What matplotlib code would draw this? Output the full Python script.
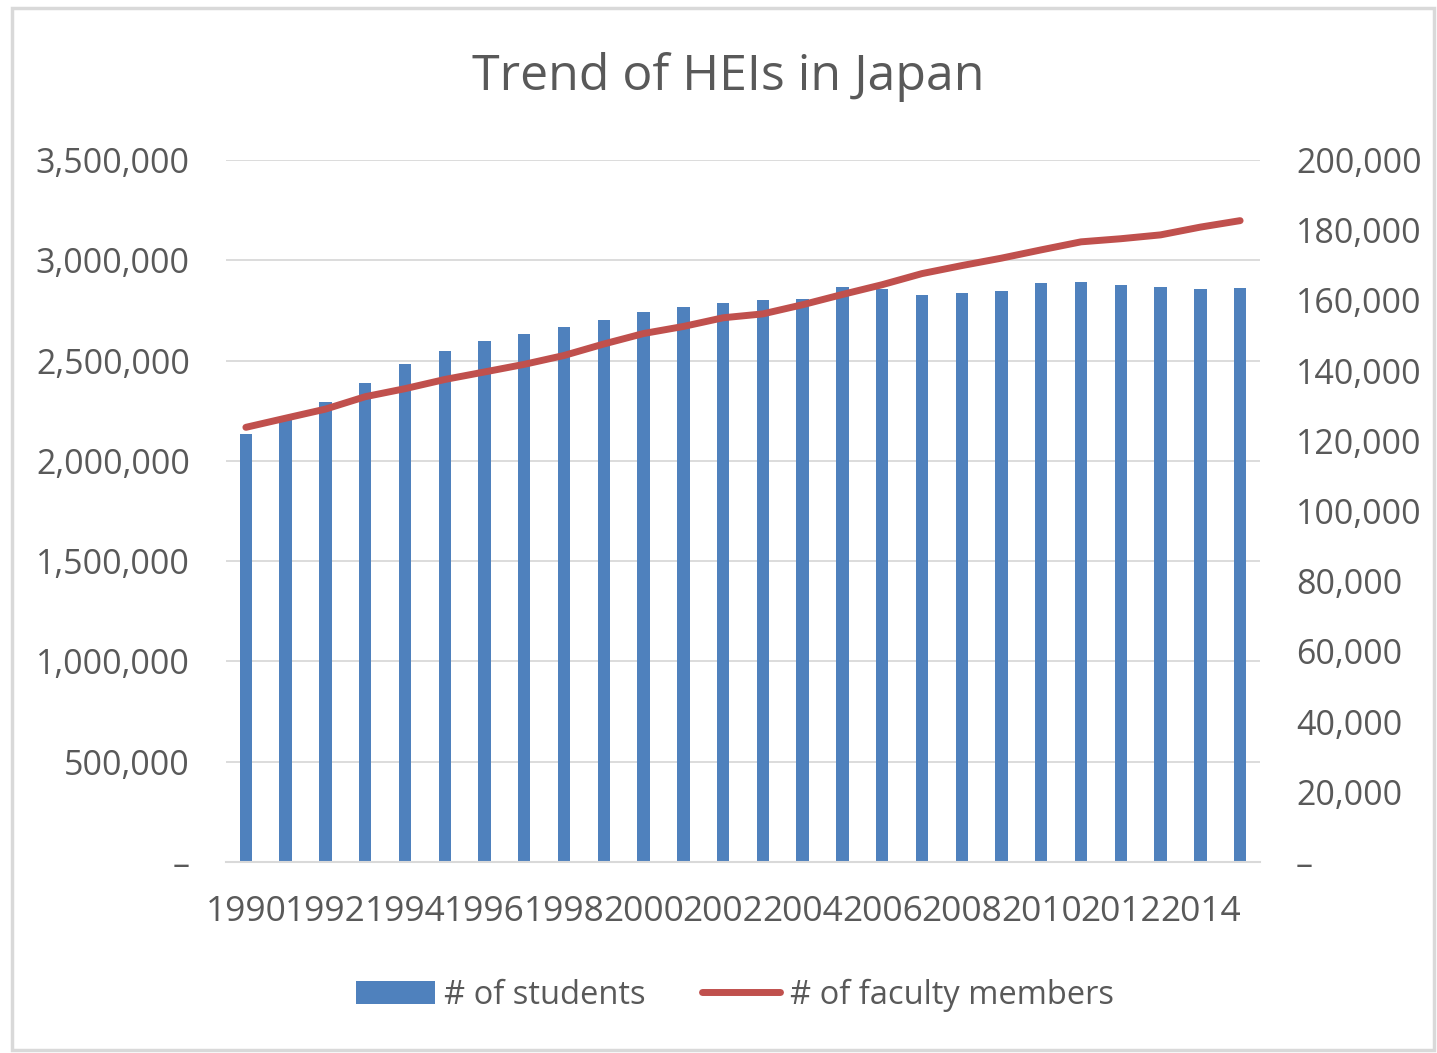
import numpy as np
import matplotlib
matplotlib.use('Agg')
import matplotlib.pyplot as plt
from matplotlib.ticker import FuncFormatter, MultipleLocator
from matplotlib.patches import Rectangle

plt.rcParams['font.family'] = ['Open Sans', 'DejaVu Sans']

# data
years = list(range(1990, 2016))
students = [2133362, 2205516, 2293269, 2389648, 2481880, 2546649, 2596667,
            2633790, 2668086, 2701104, 2740023, 2765705, 2786032, 2803901,
            2809295, 2865051, 2859212, 2828708, 2836127, 2845908, 2887414,
            2893489, 2876134, 2868872, 2855529, 2860210]
faculty = [123838, 126445, 129024, 132563, 134849, 137464, 139608, 141782,
           144310, 147579, 150563, 152572, 155050, 156155, 158770, 161690,
           164473, 167636, 169914, 172039, 174403, 176684, 177570, 178669,
           180879, 182723]
tick_years = years[::2]

txt = '#595959'
bar_col = '#4F81BD'
line_col = '#C0504D'

fig = plt.figure(figsize=(14.37, 10.53), dpi=100)
fig.patches.append(Rectangle((12/1437, 3/1053), 1422/1437, 1042/1053,
                             transform=fig.transFigure, fill=False,
                             edgecolor='#d9d9d9', linewidth=2.5))

ax1 = fig.add_axes([226/1437, 1-862/1053, 1034/1437, 702/1053])
x = np.arange(len(years))
ax1.bar(x, students, width=0.31, color=bar_col, label='# of students', zorder=2)
ax1.set_xlim(-0.5, len(years)-0.5)
ax1.set_ylim(0, 3500000)
ax1.yaxis.set_major_locator(MultipleLocator(500000))
ax1.grid(axis='y', color='#d9d9d9', linewidth=1.3, zorder=0)
ax1.set_axisbelow(True)

def fmt(v, pos):
    return '–' if v == 0 else '{:,.0f}'.format(v)

ax1.yaxis.set_major_formatter(FuncFormatter(fmt))
ax1.set_xticks(x[::2])
ax1.set_xticklabels([str(y) for y in tick_years])
for s in ['top', 'left', 'right']:
    ax1.spines[s].set_visible(False)
ax1.spines['bottom'].set_color('#d9d9d9')
ax1.spines['bottom'].set_linewidth(1.5)
ax1.tick_params(axis='both', length=0, colors=txt)
ax1.tick_params(axis='y', pad=26, labelsize=24.5)
ax1.tick_params(axis='x', pad=24, labelsize=25.5)

ax2 = ax1.twinx()
ax2.plot(x, faculty, color=line_col, linewidth=5, solid_capstyle='round',
         label='# of faculty members', zorder=3)
ax2.set_ylim(0, 200000)
ax2.yaxis.set_major_locator(MultipleLocator(20000))
ax2.yaxis.set_major_formatter(FuncFormatter(fmt))
for s in ax2.spines.values():
    s.set_visible(False)
ax2.tick_params(axis='y', length=0, labelsize=24.5, colors=txt, pad=26)

fig.text(728/1437, 1-77/1053, 'Trend of HEIs in Japan', ha='center',
         va='center', fontsize=36, color=txt)

h1, l1 = ax1.get_legend_handles_labels()
h2, l2 = ax2.get_legend_handles_labels()
leg = fig.legend(h1+h2, l1+l2, loc='center', bbox_to_anchor=(735/1437, 1-995/1053),
                 ncol=2, frameon=False, fontsize=23.5, handlelength=2.4,
                 handletextpad=0.3, columnspacing=1.7)
for t in leg.get_texts():
    t.set_color(txt)

fig.savefig('out.png', dpi=100)
